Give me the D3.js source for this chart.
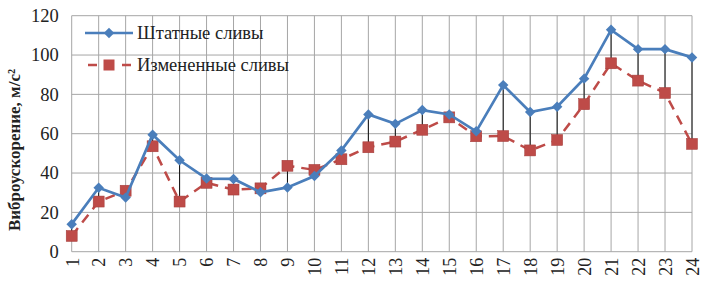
<!DOCTYPE html>
<html>
<head>
<meta charset="utf-8">
<script src="https://d3js.org/d3.v7.min.js"></script>
<style>
  body { margin: 0; background: #fff; }
</style>
</head>
<body>
<div id="chart"></div>
<script>
// data
const categories = ["1","2","3","4","5","6","7","8","9","10","11","12","13","14","15","16","17","18","19","20","21","22","23","24"];
const staffValues = [14, 32.5, 27.5, 59.5, 46.5, 37.2, 37, 30.2, 32.7, 38.5, 51.5, 69.8, 65, 72, 69.8, 61.2, 84.7, 71, 73.7, 88, 112.8, 103, 103, 98.8];
const changedValues = [8, 25.5, 31, 53.6, 25.5, 35, 31.6, 32.2, 43.7, 41.6, 47, 53.1, 56, 62, 68.3, 58.7, 58.8, 51.5, 56.8, 75, 95.8, 87, 80.7, 54.8];
const seriesNames = ["Штатные сливы", "Измененные сливы"];
const yTicks = [0, 20, 40, 60, 80, 100, 120];

const width = 709, height = 284;
const margin = {top: 15.7, right: 17, bottom: 32.3, left: 71.7};
const font = 'Liberation Serif';

const svg = d3.select('#chart').append('svg')
  .attr('width', width)
  .attr('height', height)
  .attr('font-family', font);

const x = d3.scalePoint()
  .domain(categories)
  .range([margin.left, width - margin.right]);

const y = d3.scaleLinear()
  .domain([0, 120])
  .range([height - margin.bottom, margin.top]);

const gridColor = '#a6a6a6';

// horizontal grid
svg.append('g')
  .selectAll('line')
  .data(yTicks)
  .enter().append('line')
  .attr('x1', margin.left).attr('x2', width - margin.right)
  .attr('y1', d => y(d)).attr('y2', d => y(d))
  .attr('stroke', gridColor)
  .attr('stroke-width', 1);

// vertical grid
svg.append('g')
  .selectAll('line')
  .data(categories)
  .enter().append('line')
  .attr('x1', d => x(d)).attr('x2', d => x(d))
  .attr('y1', y(0)).attr('y2', y(120))
  .attr('stroke', gridColor)
  .attr('stroke-width', 1);

// y axis labels
const yAxis = svg.append('g')
  .attr('transform', 'translate(' + margin.left + ',0)')
  .call(d3.axisLeft(y).tickValues(yTicks).tickSize(0).tickPadding(13))
  .attr('font-family', font)
  .attr('font-size', 18.5);
yAxis.select('.domain').remove();
yAxis.selectAll('text')
  .attr('font-family', font)
  .attr('fill', '#222');

// x axis labels, rotated
const xAxis = svg.append('g')
  .attr('transform', 'translate(0,' + y(0) + ')')
  .call(d3.axisBottom(x).tickSize(0))
  .attr('font-family', font)
  .attr('font-size', 18);
xAxis.select('.domain').remove();
xAxis.selectAll('text')
  .attr('font-family', font)
  .attr('fill', '#222')
  .attr('text-anchor', 'end')
  .attr('transform', 'rotate(-90)')
  .attr('x', -6)
  .attr('y', 0)
  .attr('dy', '0.35em');

// axis title
svg.append('text')
  .attr('transform', 'translate(20,' + 150 + ') rotate(-90)')
  .attr('text-anchor', 'middle')
  .attr('font-family', font)
  .attr('font-size', 17)
  .attr('font-weight', 'bold')
  .attr('fill', '#222')
  .text('Виброускорение, м/с²');

// high-low lines
svg.append('g')
  .selectAll('line')
  .data(categories)
  .enter().append('line')
  .attr('x1', d => x(d)).attr('x2', d => x(d))
  .attr('y1', (d, i) => y(staffValues[i]))
  .attr('y2', (d, i) => y(changedValues[i]))
  .attr('stroke', '#111')
  .attr('stroke-width', 1);

const blue = '#4a7ebb', red = '#be4b48';

const line = d3.line()
  .x(d => x(d.c))
  .y(d => y(d.v));

const changed = categories.map((c, i) => ({c: c, v: changedValues[i]}));
const staff = categories.map((c, i) => ({c: c, v: staffValues[i]}));

// changed series (dashed red, squares)
svg.append('path')
  .datum(changed)
  .attr('d', line)
  .attr('fill', 'none')
  .attr('stroke', red)
  .attr('stroke-width', 2.5)
  .attr('stroke-dasharray', '10,7');

svg.append('g')
  .selectAll('rect')
  .data(changed)
  .enter().append('rect')
  .attr('x', d => x(d.c) - 5.5)
  .attr('y', d => y(d.v) - 5.5)
  .attr('width', 11)
  .attr('height', 11)
  .attr('fill', red)
  .attr('stroke', '#a33c3a')
  .attr('stroke-width', 0.5);

// staff series (solid blue, diamonds)
svg.append('path')
  .datum(staff)
  .attr('d', line)
  .attr('fill', 'none')
  .attr('stroke', blue)
  .attr('stroke-width', 2.7);

const diamond = d3.symbol().type(d3.symbolDiamond2).size(70);
svg.append('g')
  .selectAll('path')
  .data(staff)
  .enter().append('path')
  .attr('d', diamond)
  .attr('transform', d => 'translate(' + x(d.c) + ',' + y(d.v) + ')')
  .attr('fill', blue);

// legend
const legend = svg.append('g')
  .attr('font-family', font)
  .attr('font-size', 18.5);
legend.append('line')
  .attr('x1', 85).attr('x2', 133).attr('y1', 33).attr('y2', 33)
  .attr('stroke', blue).attr('stroke-width', 2.7);
legend.append('path')
  .attr('d', diamond)
  .attr('transform', 'translate(109,33)')
  .attr('fill', blue);
legend.append('text')
  .attr('x', 137).attr('y', 33).attr('dy', '0.35em')
  .attr('fill', '#222')
  .text(seriesNames[0]);

legend.append('line')
  .attr('x1', 88).attr('x2', 131).attr('y1', 65).attr('y2', 65)
  .attr('stroke', red).attr('stroke-width', 2.5)
  .attr('stroke-dasharray', '9,8');
legend.append('rect')
  .attr('x', 103.5).attr('y', 59.5).attr('width', 11).attr('height', 11)
  .attr('fill', red);
legend.append('text')
  .attr('x', 137).attr('y', 65).attr('dy', '0.35em')
  .attr('fill', '#222')
  .text(seriesNames[1]);
</script>
</body>
</html>
